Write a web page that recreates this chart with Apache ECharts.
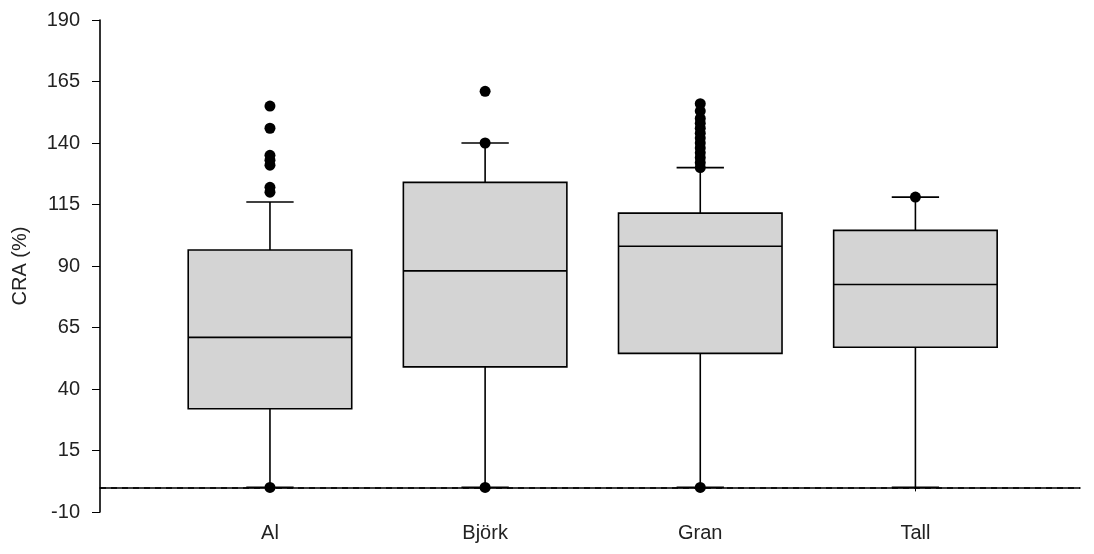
<!DOCTYPE html>
<html><head><meta charset="utf-8">
<script src="https://cdn.jsdelivr.net/npm/echarts@6/dist/echarts.min.js"></script>
<style>html,body{margin:0;padding:0;background:#fff}#c{width:1094px;height:554px}</style>
</head><body><div id="c"></div>
<script>
const categories = ['Al', 'Björk', 'Gran', 'Tall'];
// [whiskerLow, q1, median, q3, whiskerHigh]
const boxStats = [
  [0, 32, 61, 96.5, 116],
  [0, 49, 88, 124, 140],
  [0, 54.5, 98, 111.5, 130],
  [0, 57, 82.5, 104.5, 118]
];
const outliersAl = [155, 146, 135, 133, 131, 122, 120, 0];
const outliersBjork = [161, 140, 0];
const outliersGran = [156, 153, 150, 148, 146, 144, 142, 140, 138, 136, 134, 132, 130, 0];
const outliersTall = [118];
const yTicks = [-10, 15, 40, 65, 90, 115, 140, 165, 190];
const refLineValue = 0;

const outlierData = [];
[outliersAl, outliersBjork, outliersGran, outliersTall].forEach((arr, i) => {
  arr.forEach(v => outlierData.push([i + 1, v]));
});
const boxData = boxStats.map((s, i) => [i + 1].concat(s));

const BOX_HALF = 0.38, CAP_HALF = 0.11;
const lineStyle = { stroke: '#000', lineWidth: 1.6 };

function renderBox(params, api) {
  const x = api.value(0);
  const lo = api.coord([x, api.value(1)]);
  const q1 = api.coord([x, api.value(2)]);
  const med = api.coord([x, api.value(3)]);
  const q3 = api.coord([x, api.value(4)]);
  const hi = api.coord([x, api.value(5)]);
  const left = api.coord([x - BOX_HALF, 0])[0];
  const right = api.coord([x + BOX_HALF, 0])[0];
  const cl = api.coord([x - CAP_HALF, 0])[0];
  const cr = api.coord([x + CAP_HALF, 0])[0];
  const cx = lo[0];
  return {
    type: 'group',
    children: [
      { type: 'line', shape: { x1: cx, y1: hi[1], x2: cx, y2: q3[1] }, style: lineStyle },
      { type: 'line', shape: { x1: cx, y1: q1[1], x2: cx, y2: lo[1] }, style: lineStyle },
      { type: 'line', shape: { x1: cl, y1: hi[1], x2: cr, y2: hi[1] }, style: lineStyle },
      { type: 'line', shape: { x1: cl, y1: lo[1], x2: cr, y2: lo[1] }, style: lineStyle },
      { type: 'rect', shape: { x: left, y: q3[1], width: right - left, height: q1[1] - q3[1] },
        style: { fill: '#d4d4d4', stroke: '#000', lineWidth: 1.6 } },
      { type: 'line', shape: { x1: left, y1: med[1], x2: right, y2: med[1] }, style: lineStyle }
    ]
  };
}

const chart = echarts.init(document.getElementById('c'), null, { renderer: 'canvas' });
chart.setOption({
  animation: false,
  backgroundColor: '#fff',
  grid: { left: 100, right: 14, top: 20, bottom: 42 },
  xAxis: {
    type: 'value', min: 0.21, max: 4.765,
    splitLine: { show: false },
    axisLine: { lineStyle: { color: '#000', width: 1.6 } },
    axisTick: { customValues: [1, 2, 3, 4], length: 4, lineStyle: { color: '#000' } },
    axisLabel: {
      customValues: [1, 2, 3, 4],
      formatter: v => categories[Math.round(v) - 1] || '',
      color: '#222', fontSize: 20, fontFamily: 'Liberation Sans', margin: 11
    }
  },
  yAxis: {
    type: 'value', min: -10, max: 190,
    name: 'CRA (%)', nameLocation: 'middle', nameGap: 70, nameRotate: 90,
    nameTextStyle: { color: '#222', fontSize: 20, fontFamily: 'Liberation Sans' },
    splitLine: { show: false },
    axisLine: { show: true, lineStyle: { color: '#000', width: 1.6 } },
    axisTick: { show: true, customValues: yTicks, length: 8, lineStyle: { color: '#000' } },
    axisLabel: { customValues: yTicks, color: '#222', fontSize: 20, fontFamily: 'Liberation Sans', margin: 20 }
  },
  series: [
    {
      type: 'custom', data: boxData, renderItem: renderBox,
      encode: { x: 0, y: [1, 2, 3, 4, 5] }, z: 2,
      markLine: {
        silent: true, symbol: 'none', label: { show: false },
        lineStyle: { color: '#000', type: [6, 5], width: 1.5 },
        data: [{ yAxis: refLineValue }]
      }
    },
    {
      type: 'scatter', data: outlierData, symbol: 'circle', symbolSize: 11,
      itemStyle: { color: '#000', opacity: 1 }, z: 3
    }
  ]
});
</script></body></html>
